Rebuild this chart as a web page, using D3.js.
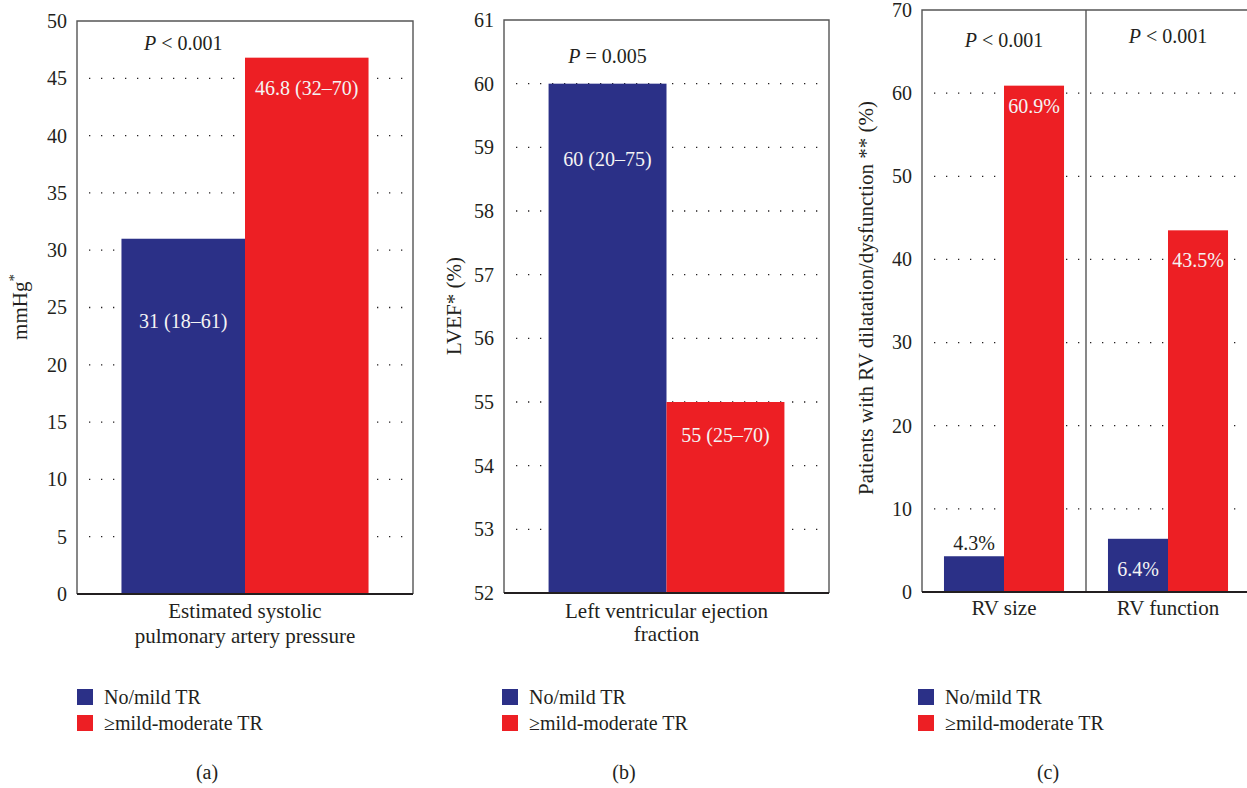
<!DOCTYPE html>
<html>
<head>
<meta charset="utf-8">
<script src="https://cdn.jsdelivr.net/npm/d3@7"></script>
<style>
  body { margin: 0; background: #fff; }
  text { font-family: "Liberation Serif", "DejaVu Serif", serif; fill: #231f20; }
</style>
</head>
<body>
<svg id="chart" width="1247" height="788"></svg>
<script>
// Series shared by all three panels
const seriesNames = ["No/mild TR", "≥mild-moderate TR"];
const seriesColors = ["#2b3087", "#ed1f24"];

// (a) Estimated systolic pulmonary artery pressure
const catsA = [["Estimated systolic", "pulmonary artery pressure"]];
const noMildA = [31];
const modTRA = [46.8];
const textA = [["31 (18–61)", "46.8 (32–70)"]];
const textAtA = [[23.2, 43.5]];
const pA = ["< 0.001"];
const pAtA = [47.5];

// (b) Left ventricular ejection fraction
const catsB = [["Left ventricular ejection", "fraction"]];
const noMildB = [60];
const modTRB = [55];
const textB = [["60 (20–75)", "55 (25–70)"]];
const textAtB = [[58.7, 54.37]];
const pB = ["= 0.005"];
const pAtB = [60.32];

// (c) RV size / RV function
const catsC = [["RV size"], ["RV function"]];
const noMildC = [4.3, 6.4];
const modTRC = [60.9, 43.5];
const textC = [["4.3%", "60.9%"], ["6.4%", "43.5%"]];
const textAtC = [[5.05, 57.6], [1.9, 39.1]];
const pC = ["< 0.001", "< 0.001"];
const pAtC = [65.55, 66.0];

const svg = d3.select("#chart");

function drawPanel(cfg) {
    const g = svg.append("g");

    const y = d3.scaleLinear().domain(cfg.domain).range([cfg.bottom, cfg.top]);
    const x0 = d3.scaleBand()
        .domain(d3.range(cfg.cats.length))
        .range([cfg.left, cfg.right])
        .paddingInner(cfg.padInner)
        .paddingOuter(cfg.padOuter);
    const x1 = d3.scaleBand().domain([0, 1]).range([0, x0.bandwidth()]);

    const ticks = y.ticks(cfg.tickCount);

    // dotted grid, behind the bars
    g.append("g")
        .selectAll("line")
        .data(ticks.filter(t => t > cfg.domain[0] && t < cfg.domain[1]))
        .join("line")
        .attr("x1", cfg.left + 12)
        .attr("x2", cfg.right - 6)
        .attr("y1", d => y(d))
        .attr("y2", d => y(d))
        .attr("stroke", "#231f20")
        .attr("stroke-width", 1.3)
        .attr("stroke-dasharray", "1.3,10.7");

    // bars
    const rows = cfg.cats.map((c, i) => [cfg.s0[i], cfg.s1[i]]);
    const groups = g.append("g")
        .selectAll("g")
        .data(rows)
        .join("g")
        .attr("transform", (d, i) => `translate(${x0(i)},0)`);

    groups.selectAll("rect")
        .data(d => d)
        .join("rect")
        .attr("x", (d, j) => x1(j))
        .attr("width", x1.bandwidth())
        .attr("y", d => y(d))
        .attr("height", d => y(cfg.domain[0]) - y(d))
        .attr("fill", (d, j) => seriesColors[j]);

    // value labels
    groups.each(function (d, i) {
        d3.select(this).selectAll("text.val")
            .data(d)
            .join("text")
            .attr("class", "val")
            .attr("x", (v, j) => x1(j) + x1.bandwidth() / 2)
            .attr("y", (v, j) => y(cfg.textAt[i][j]))
            .attr("text-anchor", "middle")
            .attr("font-size", 20)
            .style("fill", (v, j) => cfg.textAt[i][j] > v ? "#231f20" : "#f4f4f4")
            .text((v, j) => cfg.texts[i][j]);
    });

    // P values
    g.append("g")
        .selectAll("text")
        .data(cfg.p)
        .join("text")
        .attr("x", (d, i) => cfg.pOverFirst ? x0(i) + x1(0) + x1.bandwidth() / 2 : x0(i) + x0.bandwidth() / 2)
        .attr("y", (d, i) => y(cfg.pAt[i]))
        .attr("text-anchor", "middle")
        .attr("font-size", 20)
        .each(function (d) {
            const t = d3.select(this);
            t.append("tspan").attr("font-style", "italic").text("P");
            t.append("tspan").text(" " + d);
        });

    // y axis tick labels
    const axis = d3.axisLeft(y).tickValues(ticks).tickSize(0).tickPadding(10).tickFormat(d3.format("d"));
    const ax = g.append("g").attr("transform", `translate(${cfg.left},0)`).call(axis);
    ax.select(".domain").remove();
    ax.selectAll("text").attr("font-size", 20).attr("font-family", null).style("fill", "#231f20");

    // frame
    g.append("path")
        .attr("d", `M${cfg.left},${cfg.bottom}V${cfg.top}H${cfg.right}V${cfg.bottom}`)
        .attr("fill", "none")
        .attr("stroke", "#555")
        .attr("stroke-width", 1.4);
    if (cfg.cats.length > 1) {
        g.selectAll("line.div")
            .data(d3.range(1, cfg.cats.length))
            .join("line")
            .attr("class", "div")
            .attr("x1", i => x0(i) - x0.step() * x0.paddingInner() / 2)
            .attr("x2", i => x0(i) - x0.step() * x0.paddingInner() / 2)
            .attr("y1", cfg.top)
            .attr("y2", cfg.bottom)
            .attr("stroke", "#555")
            .attr("stroke-width", 1.4);
    }
    g.append("line")
        .attr("x1", cfg.left).attr("x2", cfg.right)
        .attr("y1", cfg.bottom).attr("y2", cfg.bottom)
        .attr("stroke", "#231f20")
        .attr("stroke-width", 1.8);

    // category labels
    g.append("g")
        .selectAll("text")
        .data(cfg.cats)
        .join("text")
        .attr("text-anchor", "middle")
        .attr("font-size", 21)
        .attr("y", cfg.bottom + cfg.catDy)
        .each(function (lines, i) {
            const cx = x0(i) + x0.bandwidth() / 2;
            d3.select(this).selectAll("tspan")
                .data(lines)
                .join("tspan")
                .attr("x", cx)
                .attr("dy", (l, k) => k === 0 ? 0 : cfg.lineH)
                .text(l => l);
        });

    // y axis title
    g.append("text")
        .attr("transform", `translate(${cfg.titleX},${cfg.titleY}) rotate(-90)`)
        .attr("text-anchor", "middle")
        .attr("font-size", 21)
        .html(cfg.title);

    // legend
    const leg = g.append("g")
        .selectAll("g")
        .data(seriesNames)
        .join("g")
        .attr("transform", (d, i) => `translate(${cfg.legendX},${689 + i * 26})`);
    leg.append("rect").attr("width", 16).attr("height", 16).attr("fill", (d, i) => seriesColors[i]);
    leg.append("text").attr("x", 27).attr("y", 15).attr("font-size", 20).text(d => d);

    // sub caption
    g.append("text")
        .attr("x", cfg.captionX)
        .attr("y", 779)
        .attr("text-anchor", "middle")
        .attr("font-size", 20)
        .text(cfg.caption);
}

drawPanel({
    cats: catsA, s0: noMildA, s1: modTRA, texts: textA, textAt: textAtA, p: pA, pAt: pAtA, pOverFirst: true,
    domain: [0, 50], tickCount: 10,
    left: 77, right: 413, top: 21, bottom: 594, padInner: 0, padOuter: 0.18,
    catDy: 24, lineH: 25,
    title: "mmHg<tspan dy='-8' font-size='15'>*</tspan>", titleX: 27, titleY: 307,
    legendX: 77, captionX: 207, caption: "(a)"
});

drawPanel({
    cats: catsB, s0: noMildB, s1: modTRB, texts: textB, textAt: textAtB, p: pB, pAt: pAtB, pOverFirst: true,
    domain: [52, 61], tickCount: 9,
    left: 504, right: 829, top: 20, bottom: 593, padInner: 0, padOuter: 0.189,
    catDy: 25, lineH: 23,
    title: "LVEF* (%)", titleX: 461, titleY: 306,
    legendX: 502, captionX: 624, caption: "(b)"
});

drawPanel({
    cats: catsC, s0: noMildC, s1: modTRC, texts: textC, textAt: textAtC, p: pC, pAt: pAtC, pOverFirst: false,
    domain: [0, 70], tickCount: 7,
    left: 922, right: 1250, top: 10, bottom: 592, padInner: 0.268, padOuter: 0.134,
    catDy: 23, lineH: 22,
    title: "Patients with RV dilatation/dysfunction ** (%)", titleX: 873, titleY: 298,
    legendX: 918, captionX: 1048, caption: "(c)"
});
</script>
</body>
</html>
